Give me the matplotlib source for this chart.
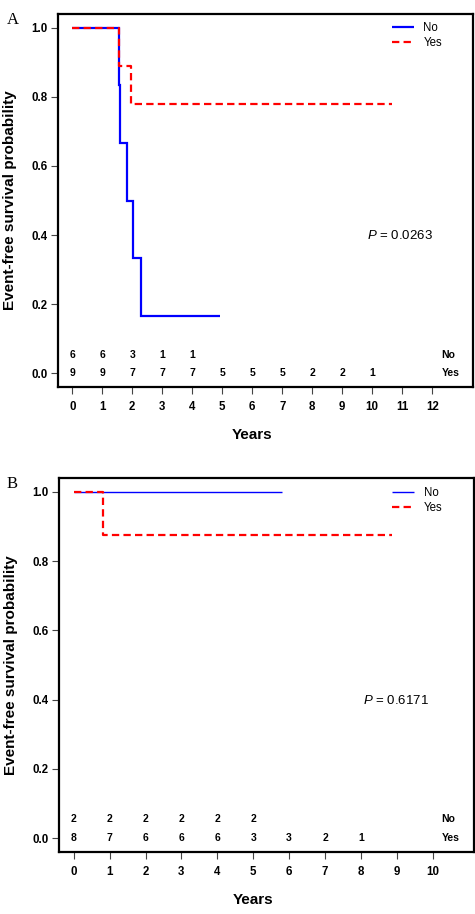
import matplotlib
matplotlib.use('Agg')
import matplotlib.pyplot as plt
import matplotlib.transforms as mtransforms

plt.rcParams['font.family'] = ['Liberation Sans', 'DejaVu Sans']
plt.rcParams['mathtext.fontset'] = 'custom'
plt.rcParams['mathtext.it'] = 'Liberation Sans:italic'
plt.rcParams['mathtext.rm'] = 'Liberation Sans'

# ---------------- data ----------------
groups = ["No", "Yes"]
yticks = [0.0, 0.2, 0.4, 0.6, 0.8, 1.0]

# Panel A
a_no_time = [0, 1.57, 1.59, 1.81, 2.03, 2.28, 4.92]
a_no_surv = [1.0, 0.833, 0.667, 0.5, 0.333, 0.167, 0.167]
a_yes_time = [0, 1.57, 1.95, 10.65]
a_yes_surv = [1.0, 0.889, 0.778, 0.778]
a_risk_no = [6, 6, 3, 1, 1]
a_risk_yes = [9, 9, 7, 7, 7, 5, 5, 5, 2, 2, 1]
a_xticks = [0, 1, 2, 3, 4, 5, 6, 7, 8, 9, 10, 11, 12]
a_pvalue = "0.0263"

# Panel B
b_no_time = [0, 5.80]
b_no_surv = [1.0, 1.0]
b_yes_time = [0, 0.81, 8.87]
b_yes_surv = [1.0, 0.875, 0.875]
b_risk_no = [2, 2, 2, 2, 2, 2]
b_risk_yes = [8, 7, 6, 6, 6, 3, 3, 2, 1]
b_xticks = [0, 1, 2, 3, 4, 5, 6, 7, 8, 9, 10]
b_pvalue = "0.6171"

BLUE = '#0000FF'
RED = '#FF0000'
DASH = (0, (3.3, 1.9))

fig = plt.figure(figsize=(4.75, 9.14), dpi=100)
axA = fig.add_axes([58 / 475, 1 - 387 / 914, 415 / 475, 373 / 914])
axB = fig.add_axes([59 / 475, 1 - 852 / 914, 415 / 475, 374 / 914])


def panel(ax, no_t, no_s, yes_t, yes_s, risk_no, risk_yes, xticks, xlim,
          pval, pxy, no_lw, legend_anchor, rowlabel_x):
    ax.step(no_t, no_s, where='post', color=BLUE, lw=no_lw, label=groups[0],
            solid_capstyle='butt', solid_joinstyle='miter')
    ax.step(yes_t, yes_s, where='post', color=RED, lw=1.6, ls=DASH,
            label=groups[1], dash_capstyle='butt')

    # numbers at risk
    for i, n in enumerate(risk_no):
        ax.text(xticks[i], 0.054, str(n), ha='center', va='center',
                fontsize=7.5, fontweight='bold')
    for i, n in enumerate(risk_yes):
        ax.text(xticks[i], 0.0, str(n), ha='center', va='center',
                fontsize=7.5, fontweight='bold')
    trans = mtransforms.blended_transform_factory(ax.transAxes, ax.transData)
    ax.text(rowlabel_x, 0.054, groups[0], transform=trans, ha='left',
            va='center', fontsize=7.5, fontweight='bold')
    ax.text(rowlabel_x, 0.0, groups[1], transform=trans, ha='left',
            va='center', fontsize=7.5, fontweight='bold')

    ax.text(pxy[0], pxy[1], r'$\mathit{P}$ = ' + pval, ha='left', va='center',
            fontsize=9.5)

    ax.set_xlim(*xlim)
    ax.set_ylim(-0.04, 1.04)
    ax.set_xticks(xticks)
    ax.set_xticklabels([str(t) for t in xticks], fontsize=8.3,
                       fontweight='bold')
    ax.set_yticks(yticks)
    ax.set_yticklabels(['%.1f' % v for v in yticks], fontsize=8.3,
                       fontweight='bold')
    ax.tick_params(axis='x', direction='out', length=5, width=0.8,
                   color='#444444', pad=5)
    ax.tick_params(axis='y', direction='out', length=5, width=0.8,
                   color='#444444', pad=2.5)
    for sp in ax.spines.values():
        sp.set_linewidth(1.6)
        sp.set_color('black')

    ax.set_xlabel('Years', fontsize=11, fontweight='bold')
    ax.set_ylabel('Event-free survival probability', fontsize=11,
                  fontweight='bold')
    ax.xaxis.set_label_coords(0.467, -0.11)
    ax.yaxis.set_label_coords(-0.098, 0.5)

    ax.legend(loc='upper left', bbox_to_anchor=legend_anchor, frameon=False,
              fontsize=8.3, handlelength=1.9, handletextpad=0.85,
              labelspacing=0.3, borderpad=0, borderaxespad=0)


panel(axA, a_no_time, a_no_surv, a_yes_time, a_yes_surv, a_risk_no,
      a_risk_yes, a_xticks, (-0.477, 13.36), a_pvalue, (9.83, 0.398), 1.6,
      (0.804, 0.979), 0.9246)
panel(axB, b_no_time, b_no_surv, b_yes_time, b_yes_surv, b_risk_no,
      b_risk_yes, b_xticks, (-0.41, 11.15), b_pvalue, (8.05, 0.398), 1.0,
      (0.803, 0.977), 0.922)

fig.text(12.5 / 475, 1 - 20 / 914, 'A', family='Liberation Serif',
         fontsize=12, ha='center', va='center')
fig.text(12 / 475, 1 - 484.5 / 914, 'B', family='Liberation Serif',
         fontsize=12, ha='center', va='center')

fig.savefig('out.png', dpi=100)
